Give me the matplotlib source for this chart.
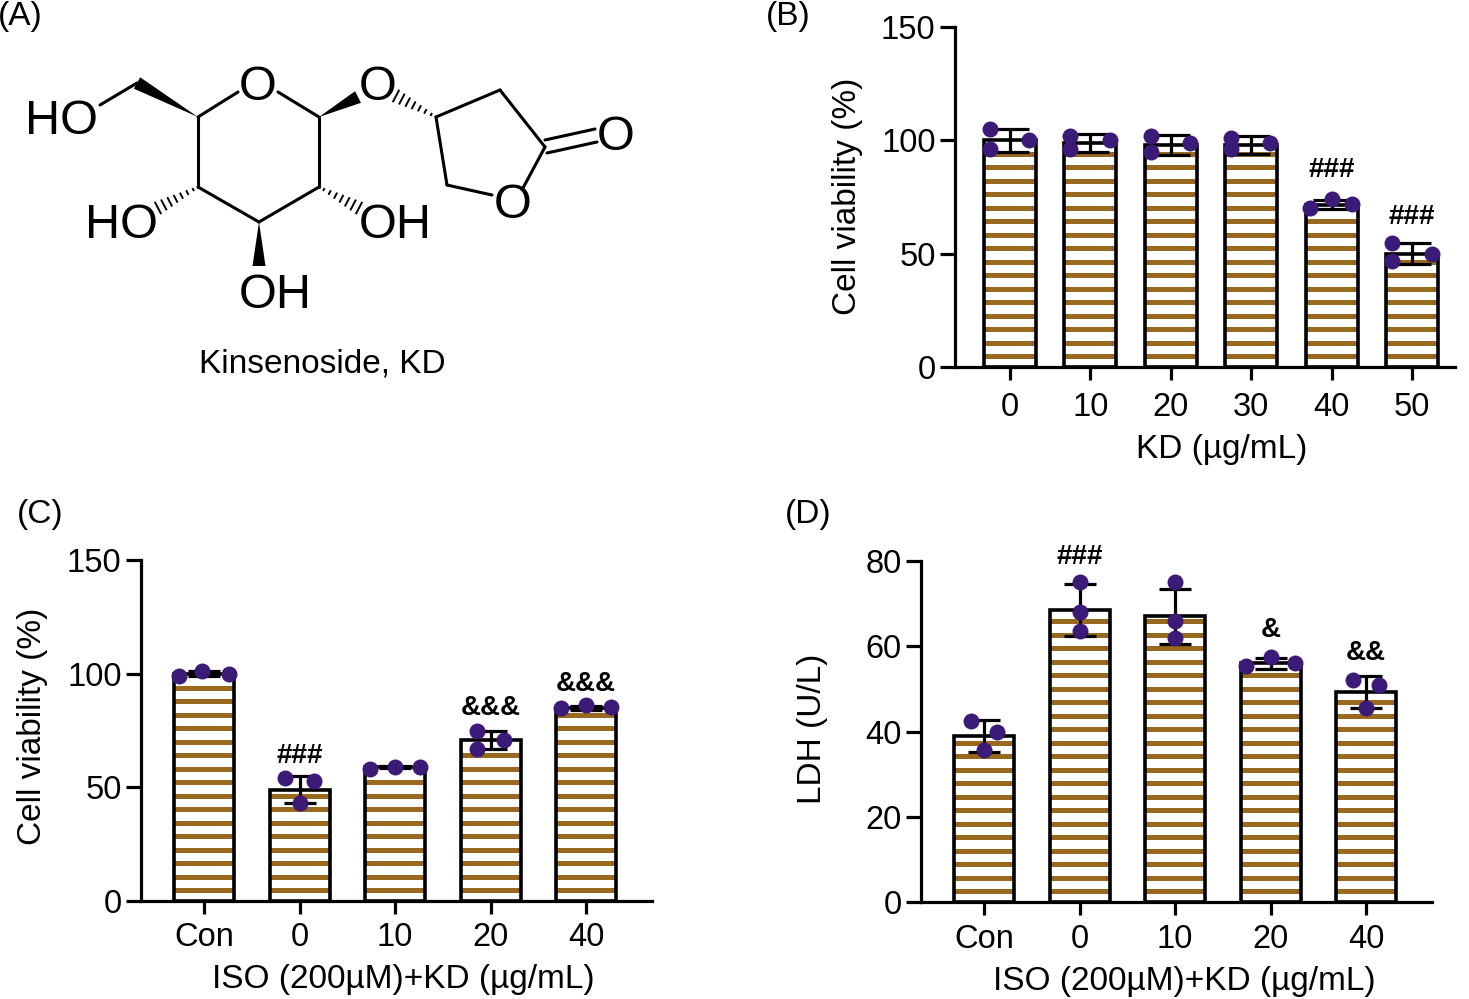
import numpy as np
import matplotlib
matplotlib.use('Agg')
import matplotlib.pyplot as plt
from matplotlib.patches import Polygon

plt.rcParams['font.family'] = ['Liberation Sans', 'DejaVu Sans']

W, H = 1469, 999

# panel B
b_labels = ['0', '10', '20', '30', '40', '50']
b_means = [100, 99, 98, 98, 71.5, 50]
b_errs = [5, 4, 4.5, 4, 2, 4.5]
b_points = [[105, 96, 100], [102, 96, 100], [102, 95, 99], [101, 96, 99], [70, 74, 72], [54.7, 46.7, 49.8]]
b_jitter = [[-.25, -.25, .24], [-.25, -.25, .24], [-.25, -.25, .24], [-.25, -.25, .24], [-.27, 0, .25], [-.25, -.25, .25]]
b_marks = [None, None, None, None, '###', '###']
b_mark_y = [0, 0, 0, 0, 87, 66]

# panel C
c_labels = ['Con', '0', '10', '20', '40']
c_means = [100, 49, 59, 71, 85]
c_errs = [1, 6, .6, 4, .8]
c_points = [[99, 101, 100], [54, 53, 43], [58, 59, 59], [75, 71, 67], [85, 86, 85.5]]
c_jitter = [[-.26, -.02, .26], [-.15, .15, 0], [-.26, 0, .26], [-.14, .14, -.14], [-.26, 0, .26]]
c_marks = [None, '###', None, '&&&', '&&&']
c_mark_y = [0, 64, 0, 85, 95.5]

# panel D
d_labels = ['Con', '0', '10', '20', '40']
d_means = [39, 68.5, 67, 56, 49.3]
d_errs = [3.7, 6, 6.5, 1.3, 3.7]
d_points = [[42.5, 40, 35.6], [75, 68, 63.5], [75, 66, 62], [55.4, 57.5, 56], [52, 51, 45.5]]
d_jitter = [[-.14, .14, 0], [0, 0, 0], [0, 0, 0], [-.26, 0, .26], [-.14, .14, 0]]
d_marks = [None, '###', None, '&', '&&']
d_mark_y = [0, 81, 0, 63.8, 58.4]

# structure of kinsenoside, in image pixels
bonds = [
    [(198, 117), (198, 187)], [(198, 187), (259, 222)], [(259, 222), (319, 187)],
    [(319, 187), (319, 117)], [(198, 117), (238, 92)], [(278, 92), (319, 117)],
    [(100, 105), (137, 83)], [(436, 117), (500, 90)], [(500, 90), (545, 147)],
    [(545, 147), (523, 188)], [(492, 195), (447, 185)], [(447, 185), (436, 117)],
    [(545, 140), (595, 129)], [(547, 153), (597, 142)],
]
wedges = [[(198, 117), (137, 83)], [(319, 117), (358, 97)], [(259, 222), (259, 266)]]
hashes = [[(436, 117), (396, 96)], [(198, 187), (158, 208)], [(319, 187), (359, 208)]]
atoms = [('HO', 62, 122), ('O', 258, 88), ('O', 378, 88), ('O', 616, 138), ('O', 513, 205),
         ('HO', 122, 226), ('OH', 395, 226), ('OH', 275, 295)]

fig = plt.figure(figsize=(W / 100, H / 100), dpi=100)


def axes_px(left, top, right, bottom):
    return fig.add_axes([left / W, 1 - bottom / H, (right - left) / W, (bottom - top) / H])


def bar_panel(ax, labels, means, errs, points, jitter, marks, mark_y, ymax, x0, dx, x_left, x_right, bar_px, y_px,
              cap, xpad):
    per_px = ymax / y_px
    half = bar_px / dx / 2
    x = np.arange(len(means))
    ax.set_xlim((x_left - x0) / dx, (x_right - x0) / dx)
    ax.set_ylim(0, ymax)

    for i, m in enumerate(means):
        stripes = np.arange(11 * per_px, m - 4 * per_px, 13.5 * per_px)
        ax.hlines(stripes, i - half, i + half, color='#98691f', lw=3.6, zorder=2)
    ax.bar(x, means, width=2 * half, facecolor='none', edgecolor='black', lw=2.6, zorder=3)
    ax.errorbar(x, means, yerr=errs, fmt='none', ecolor='black', elinewidth=2.3,
                capsize=cap, capthick=2.3, zorder=4)
    for i, (pts, jit) in enumerate(zip(points, jitter)):
        ax.plot(i + np.array(jit), pts, 'o', color='#3c1a78', ms=11.5, mec='none', zorder=5, clip_on=False)
        if marks[i]:
            ax.text(i, mark_y[i], marks[i], ha='center', va='center',
                    fontsize=20, fontweight='bold', zorder=6)

    for s in ['top', 'right']:
        ax.spines[s].set_visible(False)
    for s in ['left', 'bottom']:
        ax.spines[s].set_linewidth(2.3)
    ax.set_xticks(x, labels)
    ax.tick_params(axis='y', length=11, width=2.3, labelsize=23.5, pad=3)
    ax.tick_params(axis='x', length=9, width=2.3, labelsize=23.5, pad=xpad)
    ax.patch.set_alpha(0)


def set_labels(ax, box, ylabel, ylabel_x, ylabel_y, xlabel, xlabel_x):
    left, top, right, bottom = box
    ax.set_ylabel(ylabel, fontsize=24, va='center')
    ax.yaxis.set_label_coords((ylabel_x - left) / (right - left), 1 - (ylabel_y - top) / (bottom - top))
    ax.set_xlabel(xlabel, fontsize=24, labelpad=8, x=(xlabel_x - left) / (right - left))


box_b = (955, 27, 1455, 367)
ax_b = axes_px(*box_b)
bar_panel(ax_b, b_labels, b_means, b_errs, b_points, b_jitter, b_marks, b_mark_y,
          150, 1010, 80.4, 955, 1455, 52, 340, 14, 8.7)
ax_b.set_yticks([0, 50, 100, 150])
set_labels(ax_b, box_b, 'Cell viability (%)', 847, 196, 'KD (µg/mL)', 1222)

box_c = (141, 560, 652, 901)
ax_c = axes_px(*box_c)
bar_panel(ax_c, c_labels, c_means, c_errs, c_points, c_jitter, c_marks, c_mark_y,
          150, 204, 95.5, 141, 652, 60, 341, 11.5, 5.8)
ax_c.set_yticks([0, 50, 100, 150])
set_labels(ax_c, box_c, 'Cell viability (%)', 33, 726, 'ISO (200µM)+KD (µg/mL)', 403)

box_d = (921, 561, 1432, 902)
ax_d = axes_px(*box_d)
bar_panel(ax_d, d_labels, d_means, d_errs, d_points, d_jitter, d_marks, d_mark_y,
          80, 984, 95.5, 921, 1432, 60, 341, 11.5, 6.5)
ax_d.set_yticks([0, 20, 40, 60, 80])
set_labels(ax_d, box_d, 'LDH (U/L)', 812, 729, 'ISO (200µM)+KD (µg/mL)', 1184)

# overlay in image pixels for the molecule and the panel letters
ov = fig.add_axes([0, 0, 1, 1], zorder=-1)
ov.set_xlim(0, W)
ov.set_ylim(H, 0)
ov.axis('off')

for (x1, y1), (x2, y2) in bonds:
    ov.plot([x1, x2], [y1, y2], color='black', lw=2.2, solid_capstyle='round')
for (x1, y1), (x2, y2) in wedges:
    nx, ny = -(y2 - y1), x2 - x1
    n = np.hypot(nx, ny)
    nx, ny = nx / n * 6.5, ny / n * 6.5
    ov.add_patch(Polygon([(x1, y1), (x2 + nx, y2 + ny), (x2 - nx, y2 - ny)], color='black', lw=0))
for (x1, y1), (x2, y2) in hashes:
    nx, ny = -(y2 - y1), x2 - x1
    n = np.hypot(nx, ny)
    nx, ny = nx / n, ny / n
    for t in np.linspace(.12, 1, 7):
        px, py = x1 + (x2 - x1) * t, y1 + (y2 - y1) * t
        ov.plot([px - nx * 6 * t, px + nx * 6 * t], [py - ny * 6 * t, py + ny * 6 * t], color='black', lw=1.4)
for s, x, y in atoms:
    ov.text(x, y, s, fontsize=35, ha='center', va='center')

ov.text(322, 364, 'Kinsenoside, KD', fontsize=24, ha='center', va='center')
ov.text(-2, 17, '(A)', fontsize=24, ha='left', va='center')
ov.text(766, 17, '(B)', fontsize=24, ha='left', va='center')
ov.text(17, 514, '(C)', fontsize=24, ha='left', va='center')
ov.text(785, 514, '(D)', fontsize=24, ha='left', va='center')

fig.savefig('out.png', dpi=100)
